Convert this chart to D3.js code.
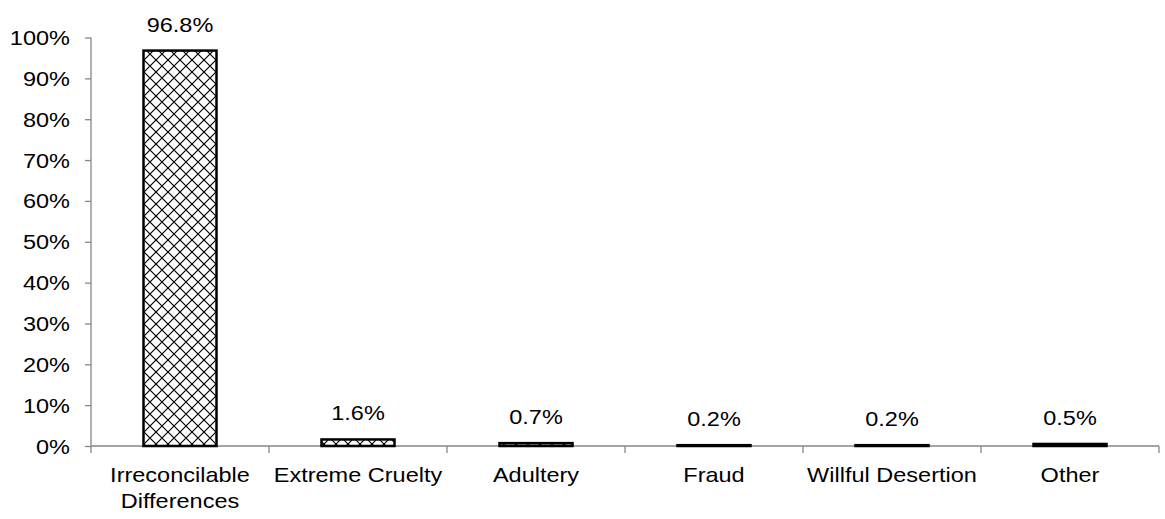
<!DOCTYPE html>
<meta charset="utf-8" />
<script src="https://d3js.org/d3.v7.min.js"></script>
<style>
	body { margin: 0; background: #fff; }
</style>
<div id="my_dataviz"></div>

<script>
	// data
	var categories = ['Irreconcilable Differences', 'Extreme Cruelty', 'Adultery', 'Fraud', 'Willful Desertion', 'Other'];
	var categoryLines = [['Irreconcilable', 'Differences'], ['Extreme Cruelty'], ['Adultery'], ['Fraud'], ['Willful Desertion'], ['Other']];
	var shares = [96.8, 1.6, 0.7, 0.2, 0.2, 0.5];
	var yTicks = [0, 10, 20, 30, 40, 50, 60, 70, 80, 90, 100];

	var width = 1165, height = 519;
	var font = '"Liberation Sans", Arial, sans-serif';
	var stretch = 1.12; // text in the picture looks a bit wide

	var svg = d3
		.select('#my_dataviz')
		.append('svg')
		.attr('width', width)
		.attr('height', height);

	// cross hatch pattern
	var pat = svg.append('defs')
		.append('pattern')
		.attr('id', 'hatch')
		.attr('patternUnits', 'userSpaceOnUse')
		.attr('width', 12)
		.attr('height', 12);
	pat.append('rect').attr('width', 12).attr('height', 12).attr('fill', '#fff');
	pat.append('path')
		.attr('d', 'M0,0 L12,12 M12,0 L0,12')
		.attr('stroke', '#000')
		.attr('stroke-width', 1.2)
		.attr('fill', 'none');

	var x = d3.scaleBand().domain(categories).range([91, 1159]).paddingInner(0).paddingOuter(0);
	var y = d3.scaleLinear().domain([0, 100]).range([446, 37.5]);

	function addText(g, tx, ty, anchor, str) {
		g.append('g')
			.attr('transform', 'translate(' + tx + ',' + ty + ') scale(' + stretch + ',1)')
			.append('text')
			.attr('text-anchor', anchor)
			.style('font-family', font)
			.style('font-size', '21px')
			.attr('fill', '#000')
			.text(str);
	}

	// Y axis
	var yAxis = svg.append('g')
		.attr('transform', 'translate(91,0)')
		.call(d3.axisLeft(y).tickValues(yTicks).tickSize(6).tickFormat(''));
	yAxis.selectAll('path, line').attr('stroke', '#868686').attr('stroke-width', 1.3);
	yAxis.select('.domain').attr('d', 'M0,' + y(100) + 'V' + y(0));

	var yLab = svg.append('g');
	yTicks.forEach(function (t) {
		addText(yLab, 70, y(t) + 7.5, 'end', t + '%');
	});

	// X axis with ticks on category boundaries
	var xAxis = svg.append('g').attr('transform', 'translate(0,446)');
	xAxis.append('line')
		.attr('x1', x.range()[0]).attr('x2', x.range()[1])
		.attr('stroke', '#868686').attr('stroke-width', 1.3);
	var bounds = categories.map(function (c) { return x(c); }).concat([x.range()[1]]);
	xAxis.selectAll('.tk')
		.data(bounds)
		.enter()
		.append('line')
		.attr('x1', function (d) { return d; })
		.attr('x2', function (d) { return d; })
		.attr('y1', 0)
		.attr('y2', 7)
		.attr('stroke', '#868686')
		.attr('stroke-width', 1.3);

	var xLab = svg.append('g');
	categories.forEach(function (c, i) {
		categoryLines[i].forEach(function (line, j) {
			addText(xLab, x(c) + x.bandwidth() / 2, 481.5 + j * 26.5, 'middle', line);
		});
	});

	// bars
	var barW = 73;
	svg.append('g')
		.selectAll('rect')
		.data(shares)
		.enter()
		.append('rect')
		.attr('x', function (d, i) { return x(categories[i]) + x.bandwidth() / 2 - barW / 2; })
		.attr('y', function (d) { return y(d); })
		.attr('width', barW)
		.attr('height', function (d) { return y(0) - y(d); })
		.attr('fill', 'url(#hatch)')
		.attr('stroke', '#000')
		.attr('stroke-width', 2.5);

	// value labels
	var vLab = svg.append('g');
	shares.forEach(function (d, i) {
		addText(vLab, x(categories[i]) + x.bandwidth() / 2, y(d) - 19, 'middle', d.toFixed(1) + '%');
	});
</script>
